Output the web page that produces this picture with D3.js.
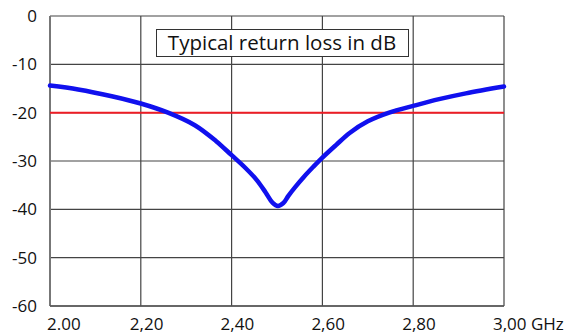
<!doctype html>
<html>
<head>
<style>
  body { margin: 0; background: #fff; }
  text { font-family: "Open Sans", sans-serif; fill: #111; }
</style>
<script src="https://d3js.org/d3.v7.min.js"></script>
</head>
<body>
<svg width="569" height="336" id="chart"></svg>
<script>
// return loss curve
var freq = [2.000, 2.062, 2.136, 2.200, 2.260, 2.319, 2.366, 2.400, 2.430, 2.455, 2.475, 2.490, 2.502, 2.514, 2.525, 2.540, 2.560, 2.580, 2.600, 2.630, 2.660, 2.700, 2.747, 2.800, 2.857, 2.916, 3.000];
var rl   = [-14.4, -15.2, -16.6, -18.1, -20.0, -22.6, -25.9, -28.8, -31.4, -33.9, -36.5, -38.6, -39.3, -38.7, -37.2, -35.4, -33.2, -31.2, -29.3, -26.7, -24.2, -21.8, -20.0, -18.6, -17.2, -16.0, -14.6];
var limit = -20;
var xTicks = [2.0, 2.2, 2.4, 2.6, 2.8, 3.0];
var xLabels = ["2.00", "2,20", "2,40", "2,60", "2,80", "3,00 GHz"];
var yTicks = [0, -10, -20, -30, -40, -50, -60];

var svg = d3.select("#chart");
var pl = 50, pr = 504, pt = 16, pb = 306;

var x = d3.scaleLinear().domain([2, 3]).range([pl, pr]);
var y = d3.scaleLinear().domain([-60, 0]).range([pb, pt]);

// grid
svg.append("g").selectAll("line")
   .data(xTicks).enter().append("line")
   .attr("x1", function(d) { return x(d); }).attr("x2", function(d) { return x(d); })
   .attr("y1", pt).attr("y2", pb)
   .attr("stroke", "#444").attr("stroke-width", 1.2);
svg.append("g").selectAll("line")
   .data(yTicks).enter().append("line")
   .attr("x1", pl).attr("x2", pr)
   .attr("y1", function(d) { return y(d); }).attr("y2", function(d) { return y(d); })
   .attr("stroke", "#444").attr("stroke-width", 1.2);

// axis lines
svg.append("line").attr("x1", pl).attr("x2", pl).attr("y1", pt).attr("y2", pb)
   .attr("stroke", "#777").attr("stroke-width", 2);
svg.append("line").attr("x1", pl).attr("x2", pr).attr("y1", pb).attr("y2", pb)
   .attr("stroke", "#555").attr("stroke-width", 1.5);

// y labels
svg.append("g").selectAll("text")
   .data(yTicks).enter().append("text")
   .attr("x", 37).attr("y", function(d) { return y(d) + 6; })
   .attr("text-anchor", "end").attr("font-size", 17)
   .text(function(d) { return d; });

// x labels
svg.append("g").selectAll("text")
   .data(xTicks).enter().append("text")
   .attr("x", function(d, i) { return i == 0 ? x(d) - 3 : x(d) - 11; })
   .attr("y", 330)
   .attr("text-anchor", "start").attr("font-size", 17)
   .text(function(d, i) { return xLabels[i]; });

// red limit line
svg.append("line")
   .attr("x1", x(2)).attr("x2", x(3))
   .attr("y1", y(limit)).attr("y2", y(limit))
   .attr("stroke", "#ee1c25").attr("stroke-width", 2);

// curve
var line = d3.line()
   .x(function(d, i) { return x(freq[i]); })
   .y(function(d) { return y(d); })
   .curve(d3.curveCatmullRom.alpha(0.5));
svg.append("path")
   .attr("d", line(rl))
   .attr("fill", "none")
   .attr("stroke", "#1010ee").attr("stroke-width", 4.5)
   .attr("stroke-linejoin", "round").attr("stroke-linecap", "round");

// title box
svg.append("rect")
   .attr("x", 156.5).attr("y", 29.5).attr("width", 252).attr("height", 27)
   .attr("fill", "#fff").attr("stroke", "#333").attr("stroke-width", 1);
svg.append("text")
   .attr("x", 282).attr("y", 50)
   .attr("text-anchor", "middle").attr("font-size", 20.5)
   .text("Typical return loss in dB");
</script>
</body>
</html>
